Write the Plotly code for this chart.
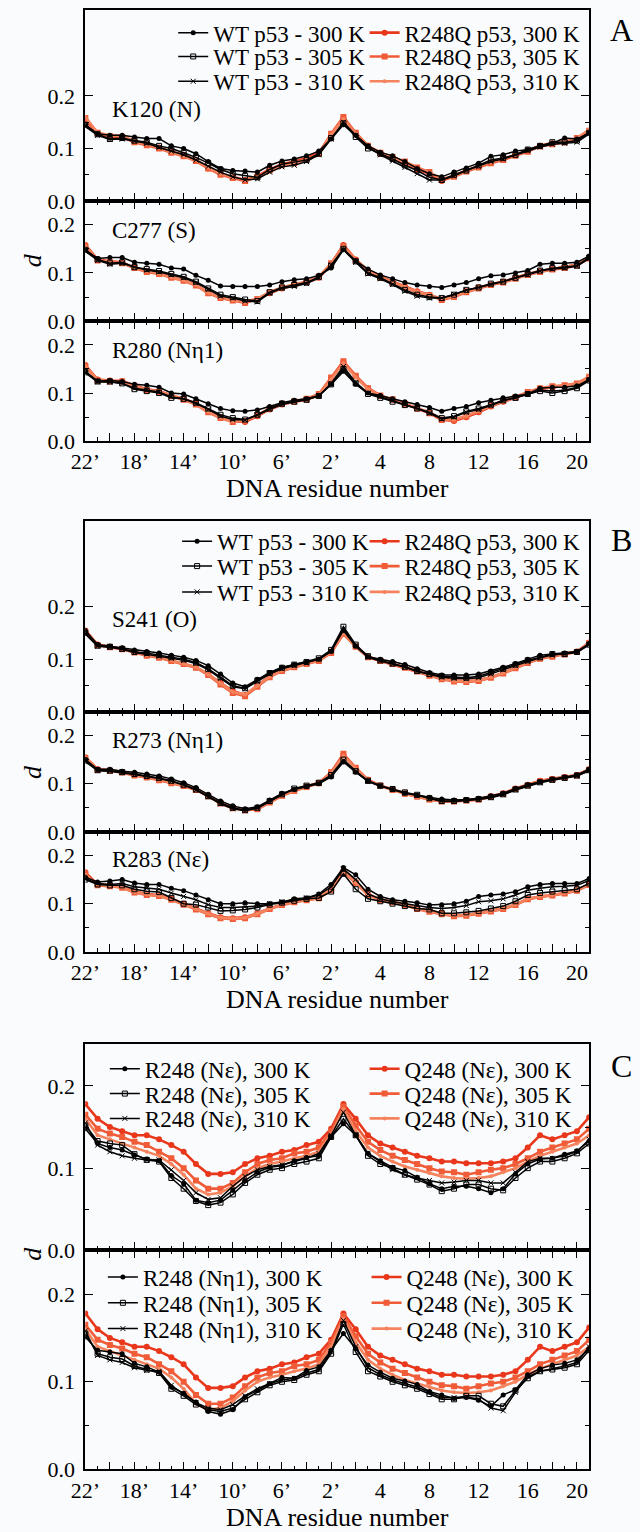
import plotly.graph_objects as go

# ---------------- data ----------------
# residue positions along the DNA (22' ... 1', 2 ... 21), plotted at equal spacing
res_pos = list(range(42))
tick_pos = [0, 4, 8, 12, 16, 20, 24, 28, 32, 36, 40]
tick_lab = ["22’", "18’", "14’", "10’", "6’", "2’", "4", "8", "12", "16", "20"]
y_tick = [0.0, 0.1, 0.2]
y_lab = ["0.0", "0.1", "0.2"]

# Panel A, K120 (N)
A1_wt300 = [.145,.128,.125,.125,.122,.119,.119,.105,.100,.090,.075,.062,.058,.057,.055,.068,.076,.080,.086,.095,.118,.145,.125,.105,.093,.086,.075,.062,.052,.046,.055,.063,.072,.085,.088,.095,.098,.105,.110,.120,.118,.130]
A1_wt305 = [.145,.127,.118,.120,.115,.112,.105,.100,.092,.083,.072,.060,.052,.048,.045,.060,.070,.074,.078,.090,.120,.148,.122,.100,.090,.080,.068,.058,.045,.040,.050,.058,.068,.078,.082,.088,.098,.105,.112,.112,.115,.130]
A1_wt310 = [.142,.125,.117,.118,.114,.110,.102,.095,.088,.078,.066,.055,.046,.040,.042,.055,.065,.068,.075,.088,.118,.150,.125,.103,.088,.076,.064,.052,.040,.040,.048,.058,.066,.075,.080,.088,.096,.103,.108,.110,.112,.128]
A1_mu300 = [.155,.128,.122,.123,.113,.108,.102,.094,.088,.078,.062,.052,.045,.040,.048,.060,.070,.075,.082,.092,.125,.158,.128,.105,.090,.082,.072,.060,.052,.038,.048,.058,.066,.074,.080,.088,.095,.105,.110,.112,.118,.132]
A1_mu305 = [.158,.130,.124,.122,.112,.106,.100,.092,.085,.076,.062,.050,.044,.038,.046,.058,.068,.072,.080,.090,.128,.160,.130,.105,.092,.084,.075,.064,.055,.040,.046,.056,.064,.072,.078,.086,.094,.104,.108,.112,.120,.134]
A1_mu310 = [.160,.130,.125,.124,.114,.108,.102,.093,.086,.078,.064,.052,.046,.040,.045,.056,.066,.072,.078,.088,.126,.156,.128,.104,.090,.082,.074,.062,.054,.042,.048,.058,.066,.074,.080,.088,.096,.106,.110,.114,.120,.136]
# Panel A, C277 (S)
A2_wt300 = [.148,.130,.132,.132,.122,.120,.118,.110,.108,.095,.085,.073,.072,.072,.072,.075,.082,.086,.088,.095,.110,.148,.125,.108,.096,.088,.080,.075,.072,.070,.075,.080,.088,.094,.096,.100,.105,.118,.120,.120,.122,.135]
A2_wt305 = [.148,.128,.120,.122,.112,.108,.104,.098,.092,.082,.068,.055,.050,.045,.042,.060,.070,.075,.080,.092,.115,.150,.124,.100,.090,.078,.065,.055,.050,.048,.055,.065,.070,.078,.082,.090,.098,.105,.110,.112,.115,.132]
A2_wt310 = [.145,.126,.118,.120,.112,.106,.102,.096,.090,.080,.066,.052,.048,.042,.040,.058,.068,.072,.078,.090,.116,.148,.122,.098,.088,.076,.062,.052,.048,.048,.056,.064,.070,.076,.082,.090,.096,.104,.108,.110,.114,.130]
A2_mu300 = [.158,.128,.124,.122,.110,.104,.100,.092,.085,.075,.060,.048,.044,.040,.045,.058,.068,.075,.080,.090,.118,.158,.128,.105,.092,.082,.072,.062,.055,.045,.052,.062,.070,.076,.082,.090,.098,.104,.108,.112,.118,.132]
A2_mu305 = [.155,.126,.122,.120,.110,.102,.098,.090,.084,.074,.058,.048,.043,.038,.046,.060,.070,.076,.082,.092,.120,.156,.126,.104,.090,.080,.070,.060,.054,.044,.050,.060,.068,.075,.080,.088,.096,.102,.107,.110,.116,.130]
A2_mu310 = [.156,.127,.122,.121,.111,.104,.099,.091,.085,.075,.059,.049,.044,.040,.047,.060,.069,.075,.081,.091,.118,.155,.127,.105,.091,.081,.071,.061,.055,.046,.051,.061,.069,.076,.081,.089,.097,.103,.108,.112,.117,.132]
# Panel A, R280 (N eta 1)
A3_wt300 = [.145,.125,.126,.124,.118,.116,.112,.100,.098,.088,.078,.068,.063,.062,.065,.072,.080,.085,.088,.095,.118,.145,.118,.100,.095,.088,.082,.076,.070,.062,.068,.072,.080,.085,.090,.094,.098,.110,.112,.112,.115,.128]
A3_wt305 = [.143,.124,.124,.120,.108,.104,.100,.090,.088,.080,.068,.055,.048,.045,.055,.068,.078,.082,.086,.094,.118,.150,.120,.098,.090,.082,.075,.068,.060,.048,.052,.062,.068,.076,.085,.090,.098,.104,.100,.104,.110,.126]
A3_wt310 = [.142,.123,.123,.120,.110,.106,.102,.092,.088,.078,.066,.052,.045,.044,.054,.066,.076,.082,.086,.094,.120,.155,.122,.100,.092,.084,.076,.068,.058,.046,.050,.060,.066,.074,.084,.090,.097,.106,.104,.106,.112,.128]
A3_mu300 = [.158,.128,.126,.125,.116,.108,.104,.095,.088,.078,.062,.050,.042,.040,.052,.066,.076,.082,.086,.096,.130,.165,.135,.110,.094,.086,.078,.068,.060,.045,.042,.050,.060,.072,.082,.090,.100,.108,.112,.114,.118,.132]
A3_mu305 = [.155,.126,.124,.124,.114,.106,.102,.094,.086,.076,.060,.048,.040,.042,.054,.068,.078,.083,.088,.098,.132,.166,.136,.110,.095,.087,.078,.068,.058,.044,.044,.052,.062,.074,.084,.092,.102,.110,.114,.116,.120,.134]
A3_mu310 = [.156,.127,.125,.124,.115,.107,.103,.095,.087,.077,.061,.049,.041,.043,.053,.067,.077,.082,.087,.097,.128,.162,.133,.108,.094,.086,.077,.067,.059,.046,.045,.053,.063,.074,.083,.091,.101,.109,.113,.115,.119,.133]
# Panel B, S241 (O)
B1_wt300 = [.155,.128,.125,.122,.118,.115,.112,.108,.104,.098,.088,.072,.055,.048,.062,.075,.085,.090,.095,.100,.115,.155,.125,.105,.100,.096,.090,.082,.075,.070,.070,.070,.072,.078,.085,.092,.100,.108,.110,.112,.115,.130]
B1_wt305 = [.150,.126,.124,.120,.114,.112,.108,.104,.100,.094,.082,.066,.050,.045,.060,.074,.084,.090,.095,.102,.118,.162,.128,.106,.098,.092,.086,.078,.072,.068,.066,.065,.068,.075,.082,.090,.098,.104,.110,.110,.114,.128]
B1_wt310 = [.148,.125,.123,.119,.113,.110,.106,.102,.098,.092,.080,.064,.048,.044,.058,.072,.082,.088,.093,.100,.116,.158,.126,.104,.097,.091,.085,.077,.072,.066,.064,.063,.065,.072,.080,.088,.096,.103,.108,.110,.113,.128]
B1_mu300 = [.155,.128,.124,.120,.114,.108,.104,.098,.092,.085,.072,.055,.040,.032,.050,.068,.080,.086,.092,.098,.115,.150,.125,.105,.098,.092,.085,.078,.070,.064,.060,.058,.060,.066,.074,.084,.094,.102,.106,.110,.115,.132]
B1_mu305 = [.152,.127,.123,.119,.113,.107,.103,.097,.091,.084,.070,.052,.036,.030,.048,.066,.078,.085,.091,.097,.112,.148,.124,.104,.097,.091,.084,.077,.069,.062,.058,.057,.059,.065,.073,.083,.093,.101,.105,.109,.114,.131]
B1_mu310 = [.154,.128,.124,.120,.114,.108,.104,.098,.092,.085,.071,.054,.038,.033,.050,.067,.079,.086,.092,.098,.114,.150,.125,.105,.098,.092,.085,.078,.070,.063,.059,.058,.060,.066,.074,.084,.094,.102,.106,.110,.115,.132]
# Panel B, R273 (N eta 1)
B2_wt300 = [.150,.130,.130,.126,.124,.120,.116,.110,.102,.092,.078,.064,.054,.048,.052,.066,.080,.088,.094,.100,.114,.145,.124,.105,.095,.088,.080,.076,.072,.068,.066,.067,.070,.075,.080,.090,.098,.104,.110,.114,.118,.130]
B2_wt305 = [.148,.128,.127,.124,.120,.116,.112,.106,.098,.088,.074,.060,.050,.045,.050,.064,.078,.090,.096,.102,.118,.150,.126,.106,.096,.089,.082,.077,.070,.064,.064,.066,.068,.072,.078,.088,.096,.103,.108,.112,.117,.128]
B2_wt310 = [.146,.127,.126,.123,.119,.115,.111,.105,.097,.087,.073,.058,.048,.044,.049,.063,.077,.089,.095,.101,.116,.148,.125,.105,.095,.088,.081,.076,.069,.063,.063,.065,.067,.071,.077,.087,.095,.102,.107,.111,.116,.127]
B2_mu300 = [.155,.130,.128,.124,.118,.114,.108,.102,.096,.088,.075,.060,.050,.046,.048,.062,.076,.086,.094,.102,.122,.160,.132,.108,.096,.088,.080,.074,.068,.064,.064,.066,.068,.074,.080,.090,.098,.106,.110,.114,.118,.130]
B2_mu305 = [.153,.129,.127,.123,.117,.113,.107,.101,.095,.087,.074,.059,.049,.045,.047,.061,.075,.085,.093,.101,.124,.162,.133,.108,.096,.087,.079,.073,.067,.063,.063,.065,.067,.073,.079,.089,.097,.105,.109,.113,.117,.129]
B2_mu310 = [.154,.130,.128,.124,.118,.114,.108,.102,.096,.088,.075,.060,.050,.046,.048,.062,.076,.086,.094,.102,.121,.158,.131,.107,.095,.087,.079,.073,.067,.063,.063,.065,.067,.073,.079,.089,.097,.105,.109,.113,.117,.129]
# Panel B, R283 (N epsilon)
B3_wt300 = [.155,.145,.147,.150,.143,.140,.140,.132,.127,.118,.108,.100,.100,.102,.100,.100,.103,.110,.112,.120,.140,.175,.160,.130,.115,.108,.105,.102,.097,.098,.100,.105,.115,.118,.120,.125,.135,.140,.142,.142,.142,.152]
B3_wt305 = [.150,.140,.138,.138,.130,.126,.124,.112,.100,.098,.092,.085,.086,.088,.092,.098,.102,.106,.110,.112,.125,.162,.130,.110,.105,.100,.095,.090,.088,.080,.080,.082,.085,.090,.095,.105,.118,.122,.125,.128,.130,.142]
B3_wt310 = [.152,.142,.140,.142,.135,.132,.130,.122,.115,.108,.098,.092,.092,.094,.095,.100,.104,.108,.112,.118,.135,.172,.150,.120,.110,.104,.100,.096,.092,.090,.092,.096,.104,.106,.110,.118,.128,.132,.135,.136,.138,.148]
B3_mu300 = [.165,.140,.138,.135,.125,.120,.118,.110,.100,.090,.080,.072,.070,.072,.080,.090,.098,.104,.108,.112,.130,.168,.145,.120,.108,.104,.098,.090,.085,.080,.075,.076,.080,.085,.090,.098,.110,.115,.118,.122,.128,.140]
B3_mu305 = [.162,.138,.136,.133,.123,.118,.116,.108,.098,.088,.078,.070,.068,.070,.078,.089,.097,.103,.107,.111,.128,.165,.143,.118,.107,.103,.097,.089,.083,.078,.074,.075,.079,.084,.089,.097,.109,.114,.117,.121,.127,.139]
B3_mu310 = [.160,.139,.137,.134,.124,.119,.117,.109,.099,.089,.079,.071,.069,.071,.079,.090,.098,.104,.108,.112,.129,.166,.144,.119,.108,.104,.098,.090,.084,.079,.075,.076,.080,.085,.090,.098,.110,.115,.118,.122,.128,.140]
# Panel C, R248 (N epsilon)
C1_wt300 = [.148,.130,.125,.122,.116,.111,.109,.091,.081,.061,.058,.061,.073,.085,.095,.101,.103,.109,.113,.115,.138,.154,.140,.118,.109,.101,.097,.089,.081,.075,.078,.078,.075,.070,.075,.093,.105,.111,.112,.117,.121,.133]
C1_wt305 = [.152,.133,.130,.128,.117,.110,.108,.088,.075,.060,.055,.058,.068,.082,.092,.098,.100,.105,.108,.112,.138,.160,.140,.115,.105,.100,.092,.086,.080,.072,.075,.080,.080,.075,.073,.088,.100,.108,.108,.112,.118,.130]
C1_wt310 = [.155,.128,.120,.115,.112,.110,.110,.098,.085,.070,.062,.064,.078,.090,.098,.102,.104,.108,.112,.118,.140,.168,.140,.118,.108,.098,.092,.088,.085,.082,.083,.085,.085,.082,.082,.095,.108,.112,.112,.115,.120,.135]
# Panel C, Q248 (N epsilon)
C_mu300 = [.178,.160,.150,.145,.140,.140,.135,.128,.120,.105,.093,.093,.095,.105,.112,.115,.120,.122,.128,.132,.148,.178,.160,.140,.130,.125,.120,.115,.112,.108,.108,.106,.106,.106,.108,.112,.125,.140,.135,.140,.145,.162]
C_mu305 = [.165,.148,.142,.138,.132,.128,.120,.112,.100,.085,.075,.075,.082,.095,.105,.110,.112,.118,.120,.125,.145,.175,.152,.132,.122,.115,.110,.105,.100,.096,.095,.092,.095,.098,.100,.105,.112,.120,.125,.130,.135,.148]
C_mu310 = [.160,.140,.135,.130,.125,.120,.115,.105,.092,.075,.068,.070,.078,.090,.100,.105,.108,.112,.115,.120,.140,.172,.145,.125,.115,.108,.102,.098,.094,.090,.088,.087,.088,.090,.095,.100,.108,.115,.120,.125,.130,.140]
# Panel C, R248 (N eta 1)
C2_wt300 = [.151,.136,.134,.132,.121,.117,.111,.094,.087,.077,.066,.063,.068,.083,.090,.098,.105,.104,.113,.117,.136,.155,.138,.119,.111,.104,.101,.097,.089,.085,.081,.082,.079,.072,.085,.091,.108,.115,.119,.121,.125,.138]
C2_wt305 = [.155,.132,.128,.126,.118,.114,.110,.092,.084,.074,.068,.066,.070,.080,.088,.096,.100,.102,.108,.112,.132,.166,.134,.112,.106,.100,.096,.092,.086,.080,.080,.084,.084,.075,.072,.090,.104,.112,.114,.116,.120,.136]
C2_wt310 = [.158,.130,.125,.122,.116,.113,.112,.096,.086,.076,.070,.068,.074,.084,.092,.098,.102,.104,.110,.114,.134,.170,.140,.116,.108,.102,.098,.094,.088,.082,.082,.083,.080,.070,.067,.088,.106,.112,.115,.118,.122,.140]

# ---------------- layout helpers ----------------
W, H = 640, 1532
X0, X1 = 72, 588
def py(v):
    return 1 - v / H
def px(v):
    return v / W

FONT = "Liberation Serif"
RED = ["#e8371b", "#f05c38", "#f5845e"]
BLACK = "#000000"

panels = [
    ("A1", 10, 202.7, 0.364, "K120 (N)", 110),
    ("A2", 202.7, 324, 0.249, "C277 (S)", 232),
    ("A3", 324, 445, 0.249, "R280 (Nη1)", 353),
    ("B1", 525, 718, 0.364, "S241 (O)", 625),
    ("B2", 718, 839, 0.249, "R273 (Nη1)", 747),
    ("B3", 839, 960, 0.249, "R283 (Nε)", 867),
    ("C1", 1053, 1261, 0.251, None, None),
    ("C2", 1261, 1482, 0.250, None, None),
]
top_keys = {"A1", "B1", "C1"}
bottom_keys = {"A3", "B3", "C2"}

series = {
    "A1": [A1_wt300, A1_wt305, A1_wt310, A1_mu300, A1_mu305, A1_mu310],
    "A2": [A2_wt300, A2_wt305, A2_wt310, A2_mu300, A2_mu305, A2_mu310],
    "A3": [A3_wt300, A3_wt305, A3_wt310, A3_mu300, A3_mu305, A3_mu310],
    "B1": [B1_wt300, B1_wt305, B1_wt310, B1_mu300, B1_mu305, B1_mu310],
    "B2": [B2_wt300, B2_wt305, B2_wt310, B2_mu300, B2_mu305, B2_mu310],
    "B3": [B3_wt300, B3_wt305, B3_wt310, B3_mu300, B3_mu305, B3_mu310],
    "C1": [C1_wt300, C1_wt305, C1_wt310, C_mu300, C_mu305, C_mu310],
    "C2": [C2_wt300, C2_wt305, C2_wt310, C_mu300, C_mu305, C_mu310],
}
names = {
    "A1": ["WT p53 - 300 K", "WT p53 - 305 K", "WT p53 - 310 K",
           "R248Q p53, 300 K", "R248Q p53, 305 K", "R248Q p53, 310 K"],
    "B1": ["WT p53 - 300 K", "WT p53 - 305 K", "WT p53 - 310 K",
           "R248Q p53, 300 K", "R248Q p53, 305 K", "R248Q p53, 310 K"],
    "C1": ["R248 (Nε), 300 K", "R248 (Nε), 305 K", "R248 (Nε), 310 K",
           "Q248 (Nε), 300 K", "Q248 (Nε), 305 K", "Q248 (Nε), 310 K"],
    "C2": ["R248 (Nη1), 300 K", "R248 (Nη1), 305 K", "R248 (Nη1), 310 K",
           "Q248 (Nε), 300 K", "Q248 (Nε), 305 K", "Q248 (Nε), 310 K"],
}
# legend placement: (rows y px, text-start x px of column 1 and column 2)
legend_pos = {
    "A1": ([33, 57, 82], [204, 400]),
    "B1": ([546, 571, 597], [208, 400]),
    "C1": ([1078, 1103, 1128], [134, 400]),
    "C2": ([1288, 1314, 1340], [132, 402]),
}

styles = [
    dict(line=dict(color=BLACK, width=1.5), marker=dict(symbol="circle", size=5, color=BLACK)),
    dict(line=dict(color=BLACK, width=1.5), marker=dict(symbol="square-open", size=5, color=BLACK, line=dict(width=1, color=BLACK))),
    dict(line=dict(color=BLACK, width=1.5), marker=dict(symbol="x-thin", size=5, color=BLACK, line=dict(width=1, color=BLACK))),
    dict(line=dict(color=RED[0], width=2.6), marker=dict(symbol="circle", size=6, color=RED[0])),
    dict(line=dict(color=RED[1], width=2.6), marker=dict(symbol="square", size=6, color=RED[1])),
    dict(line=dict(color=RED[2], width=2.6), marker=dict(symbol="circle", size=4, color=RED[2])),
]
draw_order = [3, 4, 5, 0, 1, 2]

major_x = sorted(set(tick_pos) | {p + 2 for p in tick_pos if p + 2 < 41})
major_txt = [tick_lab[tick_pos.index(p)] if p in tick_pos else "" for p in major_x]

fig = go.Figure()
layout = dict(
    width=W, height=H, autosize=False,
    margin=dict(l=0, r=0, t=0, b=0),
    paper_bgcolor="#fafbfd", plot_bgcolor="#fafbfd",
    font=dict(family=FONT, size=22, color="black"),
    annotations=[],
)
legend_count = 0
for n, (key, top, bot, ymax, lab, laby) in enumerate(panels, start=1):
    xa = "x" if n == 1 else f"x{n}"
    ya = "y" if n == 1 else f"y{n}"
    xname = "xaxis" if n == 1 else f"xaxis{n}"
    yname = "yaxis" if n == 1 else f"yaxis{n}"
    for k in draw_order:
        tr = dict(x=res_pos, y=series[key][k], mode="lines+markers", xaxis=xa, yaxis=ya,
                  showlegend=False, **styles[k])
        if key in names:
            rows, cols = legend_pos[key]
            legend_count += 1
            lg = "legend" if legend_count == 1 else f"legend{legend_count}"
            tr["name"] = names[key][k]
            tr["showlegend"] = True
            tr["legend"] = lg
            col = 0 if k < 3 else 1
            row = k % 3
            layout[lg] = dict(x=px(cols[col] - 42), y=py(rows[row]), xanchor="left", yanchor="middle",
                              bgcolor="rgba(0,0,0,0)", borderwidth=0,
                              font=dict(family=FONT, size=23, color="black"))
        fig.add_trace(go.Scatter(**tr))
    layout[xname] = dict(
        domain=[px(X0), px(X1)], anchor=ya, range=[0, 41],
        tickmode="array", tickvals=major_x, ticktext=major_txt,
        ticks="inside", ticklen=8, tickwidth=1.3, tickcolor="black",
        minor=dict(tickmode="linear", tick0=0, dtick=1, ticks="inside", ticklen=4, tickwidth=1.2, tickcolor="black"),
        showline=True, linewidth=1.7, linecolor="black",
        mirror=True if key in top_keys else "ticks",
        showgrid=False, zeroline=False,
        showticklabels=key in bottom_keys,
        tickfont=dict(family=FONT, size=22, color="black"),
    )
    if key in bottom_keys:
        layout[xname]["title"] = dict(text="DNA residue number", font=dict(family=FONT, size=26, color="black"), standoff=2)
    layout[yname] = dict(
        domain=[py(bot), py(top)], anchor=xa, range=[0, ymax],
        tickmode="array", tickvals=y_tick, ticktext=y_lab,
        ticks="inside", ticklen=8, tickwidth=1.3, tickcolor="black",
        minor=dict(tickmode="array", tickvals=[0.05, 0.15], ticks="inside", ticklen=4, tickwidth=1.2, tickcolor="black"),
        showline=True, linewidth=1.7, linecolor="black", mirror="ticks",
        showgrid=False, zeroline=False,
        tickfont=dict(family=FONT, size=22, color="black"),
        ticklabelstandoff=4,
    )
    if lab:
        layout["annotations"].append(dict(text=lab, x=px(97), y=py(laby), xref="paper", yref="paper",
                                          xanchor="left", yanchor="middle", showarrow=False,
                                          font=dict(family=FONT, size=23, color="black")))

for txt, yy in [("A", 30), ("B", 545), ("C", 1075)]:
    layout["annotations"].append(dict(text=txt, x=px(621), y=py(yy), xref="paper", yref="paper",
                                      xanchor="center", yanchor="middle", showarrow=False,
                                      font=dict(family=FONT, size=32, color="black")))
for yy in [263, 779, 1265]:
    layout["annotations"].append(dict(text="<i>d</i>", x=px(18), y=py(yy), xref="paper", yref="paper",
                                      xanchor="center", yanchor="middle", showarrow=False, textangle=-90,
                                      font=dict(family=FONT, size=26, color="black")))

fig.update_layout(**layout)
fig.write_html("out.html")
